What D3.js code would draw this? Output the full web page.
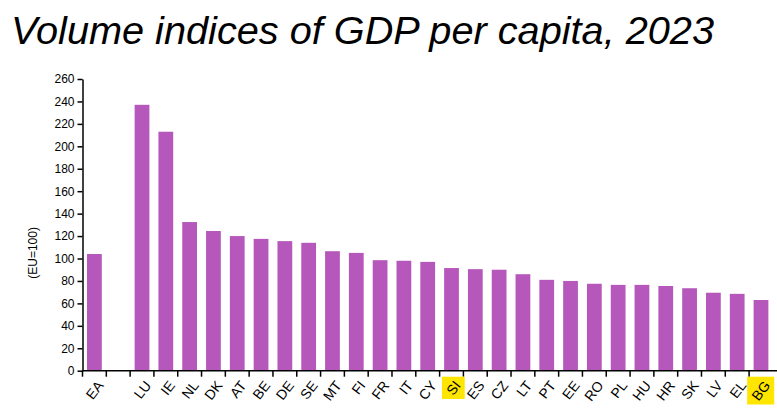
<!DOCTYPE html>
<html><head><meta charset="utf-8">
<script src="https://cdn.jsdelivr.net/npm/d3@7"></script>
<style>body{margin:0;background:#fff}svg{display:block;font-family:Arial,"Liberation Sans",sans-serif}</style>
</head><body><svg id="c" width="777" height="411"></svg>
<script>
const categories = ["EA","","LU","IE","NL","DK","AT","BE","DE","SE","MT","FI","FR","IT","CY","SI","ES","CZ","LT","PT","EE","RO","PL","HU","HR","SK","LV","EL","BG"];
const values = [104,null,237,213,132.5,124.5,120,117.5,115.5,114,106.5,105,98.5,98,97,91.5,90.5,90,86,81,80,77.5,76.5,76.5,75.5,73.5,69.5,68.5,63];
const highlighted = ["SI","BG"];
const yTicks = [0,20,40,60,80,100,120,140,160,180,200,220,240,260];
const title = "Volume indices of GDP per capita, 2023";
const yLabel = "(EU=100)";

const svg = d3.select("#c");
const x0 = 82.5, x1 = 772.9, y0 = 370.7, y1 = 79;
const keys = categories.map((c,i)=>i);
const x = d3.scaleBand().domain(keys).range([x0,x1]).paddingInner(0.38).paddingOuter(0.19);
const y = d3.scaleLinear().domain([0,260]).range([y0,y1]);
const step = x.step(), off = step*0.19;

svg.append("text").attr("x",11).attr("y",44).attr("font-size",39.7).attr("font-style","italic").text(title);

svg.selectAll("rect.bar").data(keys.filter(i=>values[i]!=null)).join("rect")
  .attr("class","bar").attr("x",i=>x(i)).attr("width",x.bandwidth())
  .attr("y",i=>y(values[i])).attr("height",i=>y0-y(values[i])).attr("fill","#b557bb");

// y axis
const ya = svg.append("g").attr("transform",`translate(${x0},0)`)
  .call(d3.axisLeft(y).tickValues(yTicks).tickSize(5).tickSizeOuter(0));
ya.selectAll("text").attr("font-size",12).attr("fill","#000").attr("font-family","Arial, Liberation Sans, sans-serif");
ya.selectAll("line,path").attr("stroke","#000").attr("stroke-width",1.5);

svg.append("text").attr("transform",`translate(37,${y(105)}) rotate(-90)`).attr("text-anchor","middle")
  .attr("font-size",12).text(yLabel);

// x axis
const xg = svg.append("g");
xg.append("line").attr("x1",x0).attr("x2",777).attr("y1",y0).attr("y2",y0).attr("stroke","#000").attr("stroke-width",1.5);
xg.selectAll("line.t").data(keys).join("line").attr("class","t")
  .attr("x1",i=>x(i)-off).attr("x2",i=>x(i)-off).attr("y1",y0).attr("y2",y0+6)
  .attr("stroke","#000").attr("stroke-width",1.5);
const lab = xg.selectAll("g.l").data(keys.filter(i=>categories[i]!=="")).join("g").attr("class","l");
lab.each(function(i){
  const g = d3.select(this);
  const cx = x(i)+x.bandwidth()/2;
  const t = g.append("text").attr("transform",`translate(${cx+6},${y0+12}) rotate(-52)`)
    .attr("text-anchor","end").attr("dy","0.35em").attr("font-size",14).attr("fill","#000").text(categories[i]);
  if (highlighted.includes(categories[i])) {
    const b = t.node().getBoundingClientRect();
    g.insert("rect","text").attr("x",b.x-1).attr("y",b.y-1).attr("width",b.width+2).attr("height",b.height+2).attr("fill","#ffe600");
  }
});
</script></body></html>
